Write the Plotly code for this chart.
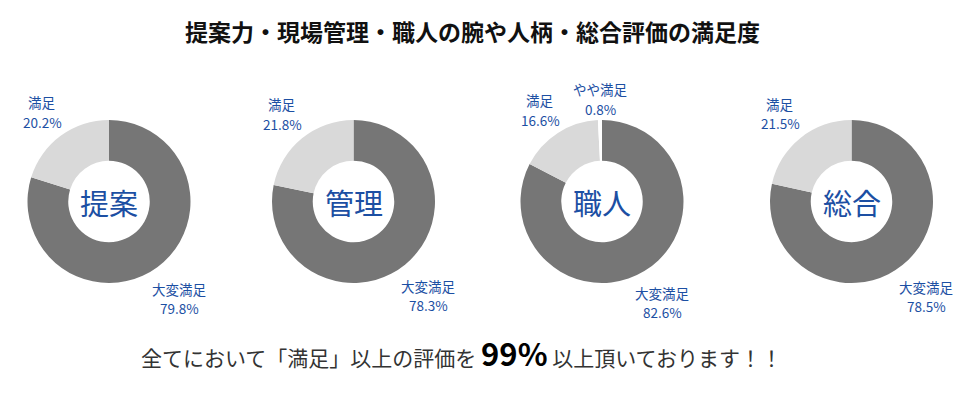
import plotly.graph_objects as go

# ---- data ----
categories = ["大変満足", "満足", "やや満足"]
chart_names = ["提案", "管理", "職人", "総合"]
teian = [79.8, 20.2, 0.0]
kanri = [78.3, 21.8, 0.0]
shokunin = [82.6, 16.6, 0.8]
sogo = [78.5, 21.5, 0.0]
series = [teian, kanri, shokunin, sogo]

title_text = "提案力・現場管理・職人の腕や人柄・総合評価の満足度"
footer_pre = "全てにおいて「満足」以上の評価を "
footer_big = "99%"
footer_post = " 以上頂いております！！"

# ---- layout / style ----
W, H = 980, 398
centers_x = [109, 353.5, 602, 851.5]
center_y = 201.5
radius = 81.5
colors = ["#767676", "#d9d9d9", "#ffffff"]
blue = "#1c4fa3"
font_family = "Noto Sans CJK JP"

# outside label positions (pixels, centre of the two-line block) per chart
label_pos = [
    {0: (179, 298.5), 1: (42, 112)},
    {0: (428, 295.5), 1: (282, 114)},
    {0: (662, 302.5), 1: (540, 110), 2: (600, 99)},
    {0: (926, 296.5), 1: (780, 113.5)},
]
line_gap = 19.6

fig = go.Figure()
annotations = []
for i, (name, vals) in enumerate(zip(chart_names, series)):
    cx = centers_x[i]
    fig.add_trace(go.Pie(
        labels=categories, values=vals, sort=False, direction="clockwise",
        rotation=0, hole=0.5, textinfo="none", hoverinfo="skip",
        marker=dict(colors=colors, line=dict(width=0)),
        showlegend=False,
        domain=dict(x=[(cx - radius) / W, (cx + radius) / W],
                    y=[1 - (center_y + radius) / H, 1 - (center_y - radius) / H]),
    ))
    annotations.append(dict(
        x=cx / W, y=1 - center_y / H, xref="paper", yref="paper",
        text=name, showarrow=False, xanchor="center", yanchor="middle",
        font=dict(family=font_family, size=29, color=blue)))
    for k, (px, py) in label_pos[i].items():
        for j, line in enumerate([categories[k], f"{vals[k]}%"]):
            annotations.append(dict(
                x=px / W, y=1 - (py + (j - 0.5) * line_gap) / H,
                xref="paper", yref="paper",
                text=line, showarrow=False, borderpad=0,
                xanchor="center", yanchor="middle", align="center",
                font=dict(family=font_family, size=13.5, color=blue)))

annotations.append(dict(
    x=472 / W, y=1 - 31 / H, xref="paper", yref="paper", text=f"<b>{title_text}</b>",
    showarrow=False, xanchor="center", yanchor="middle",
    font=dict(family=font_family, size=23, color="#111111")))
annotations.append(dict(
    x=461 / W, y=1 - 352 / H, xref="paper", yref="paper",
    text=f"{footer_pre}<span style='font-size:31px;color:#000000'><b>{footer_big}</b></span>{footer_post}",
    showarrow=False, xanchor="center", yanchor="middle",
    font=dict(family=font_family, size=21, color="#333333")))

fig.update_layout(
    width=W, height=H, margin=dict(l=0, r=0, t=0, b=0),
    paper_bgcolor="white", plot_bgcolor="white",
    annotations=annotations,
)

fig.write_html("out.html", config={"displayModeBar": False})
